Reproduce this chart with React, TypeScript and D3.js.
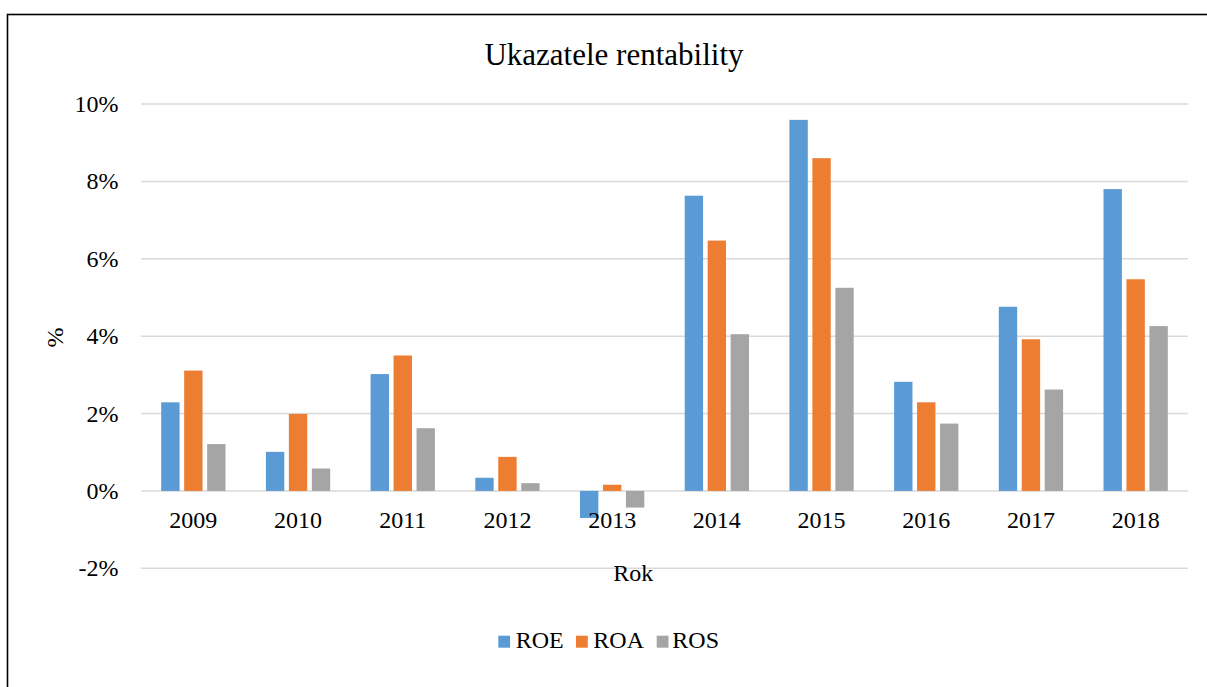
import React from 'react';
import * as d3 from 'd3';

// Clustered column chart: ROE / ROA / ROS per year, in percent.

const YEARS = ['2009', '2010', '2011', '2012', '2013', '2014', '2015', '2016', '2017', '2018'];
const SERIES = ['ROE', 'ROA', 'ROS'];
const ROE = [2.29, 1.01, 3.02, 0.34, -0.7, 7.63, 9.59, 2.82, 4.76, 7.8];
const ROA = [3.11, 1.99, 3.5, 0.88, 0.16, 6.47, 8.6, 2.29, 3.92, 5.47];
const ROS = [1.21, 0.58, 1.62, 0.2, -0.43, 4.05, 5.25, 1.74, 2.62, 4.26];
const Y_TICKS = [-2, 0, 2, 4, 6, 8, 10];

const COLORS: Record<string, string> = { ROE: '#5b9bd5', ROA: '#ed7d31', ROS: '#a5a5a5' };
const FONT = '"Liberation Serif", "Times New Roman", serif';

const W = 1207;
const H = 687;
const PLOT = { left: 141, right: 1188, top: 104, bottom: 568.3 };

export default function App() {
  const valuesBySeries: Record<string, number[]> = { ROE, ROA, ROS };

  const x0 = d3.scaleBand<string>().domain(YEARS).range([PLOT.left, PLOT.right]).padding(0);
  const x1 = d3
    .scaleBand<string>()
    .domain(SERIES)
    .range([0, x0.bandwidth()])
    .paddingInner(0.2)
    .paddingOuter(0.88);
  const y = d3.scaleLinear().domain([-2, 10]).range([PLOT.bottom, PLOT.top]);

  // legend layout
  const legendItems = [
    { key: 'ROE', sq: 498.3, tx: 515.7 },
    { key: 'ROA', sq: 576, tx: 593.3 },
    { key: 'ROS', sq: 656.7, tx: 672.3 },
  ];

  return (
    <svg
      width={W}
      height={H}
      style={{ position: 'absolute', left: 0, top: 0, background: '#fff' }}
      fontFamily={FONT}
    >
      <rect x={0} y={0} width={W} height={H} fill="#fff" />
      {/* chart border (runs off the right and bottom edge) */}
      <rect x={7.5} y={14.5} width={1240} height={700} fill="none" stroke="#000" strokeWidth={1.6} />

      <text x={614} y={65} textAnchor="middle" fontSize={31} fill="#000">
        Ukazatele rentability
      </text>

      {/* gridlines */}
      {Y_TICKS.map((t) => (
        <line
          key={`g-${t}`}
          x1={PLOT.left}
          x2={PLOT.right}
          y1={y(t)}
          y2={y(t)}
          stroke="#d9d9d9"
          strokeWidth={1.5}
        />
      ))}

      {/* y tick labels */}
      {Y_TICKS.map((t) => (
        <text key={`yt-${t}`} x={118.5} y={y(t) + 8} textAnchor="end" fontSize={24} fill="#000">
          {`${t}%`}
        </text>
      ))}

      {/* bars */}
      {YEARS.map((yr, i) => (
        <g key={yr} transform={`translate(${x0(yr)},0)`}>
          {SERIES.map((s) => {
            const v = valuesBySeries[s][i];
            const top = y(Math.max(0, v));
            const h = Math.abs(y(v) - y(0));
            return (
              <rect
                key={s}
                x={x1(s)}
                y={top}
                width={x1.bandwidth()}
                height={h}
                fill={COLORS[s]}
              />
            );
          })}
        </g>
      ))}

      {/* category labels */}
      {YEARS.map((yr) => (
        <text
          key={`xl-${yr}`}
          x={(x0(yr) ?? 0) + x0.bandwidth() / 2}
          y={528}
          textAnchor="middle"
          fontSize={24}
          fill="#000"
        >
          {yr}
        </text>
      ))}

      {/* axis titles */}
      <text x={613.3} y={581} fontSize={24} fill="#000">
        Rok
      </text>
      <text x={63} y={337.5} textAnchor="middle" fontSize={24} fill="#000" transform="rotate(-90, 63, 337.5)">
        %
      </text>

      {/* legend */}
      {legendItems.map((it) => (
        <g key={`lg-${it.key}`}>
          <rect x={it.sq} y={635.7} width={11.8} height={12} fill={COLORS[it.key]} />
          <text x={it.tx} y={648.3} fontSize={24} fill="#000">
            {it.key}
          </text>
        </g>
      ))}
    </svg>
  );
}
